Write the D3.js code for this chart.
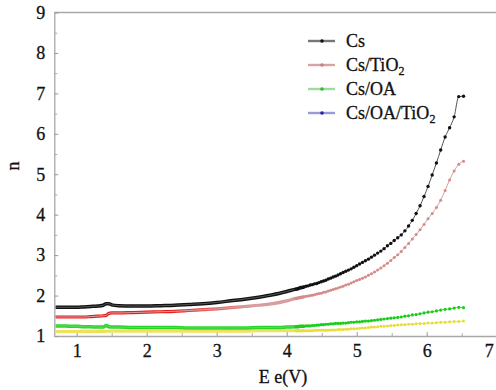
<!DOCTYPE html>
<html><head><meta charset="utf-8">
<script src="https://cdn.jsdelivr.net/npm/d3@7"></script>
<style>body{margin:0;background:#fff} svg text{font-family:"Liberation Serif","Tinos","Times New Roman","DejaVu Serif",serif !important; stroke:#111; stroke-width:0.3px;}</style></head>
<body>
<svg id="c" width="496" height="390"></svg>
<script>
// Photon energy (eV)
const energy = [0.70,0.80,0.90,1.00,1.10,1.20,1.30,1.38,1.42,1.46,1.50,1.60,1.80,2.00,2.20,2.40,2.60,2.80,3.00,3.20,3.40,3.60,3.80,4.00,
4.133,4.161,4.189,4.218,4.247,4.276,4.306,4.336,4.366,4.397,
4.429,4.460,4.493,4.526,4.559,4.593,4.627,4.662,4.697,4.733,
4.769,4.806,4.844,4.882,4.921,4.960,5.000,5.041,5.082,5.124,
5.167,5.210,5.254,5.299,5.345,5.391,5.439,5.487,5.536,5.586,
5.636,5.688,5.741,5.794,5.849,5.905,5.962,6.019,6.078,6.139,
6.200,6.263,6.327,6.392,6.458,6.526];

const nCs = [1.71,1.71,1.71,1.71,1.72,1.73,1.74,1.76,1.80,1.80,1.77,1.75,1.74,1.74,1.75,1.76,1.78,1.80,1.83,1.87,1.91,1.96,2.02,2.10,
2.16,2.17,2.19,2.20,2.21,2.23,2.24,2.26,2.27,2.29,
2.30,2.32,2.34,2.36,2.38,2.41,2.43,2.46,2.48,2.51,
2.54,2.57,2.60,2.63,2.66,2.70,2.74,2.78,2.82,2.86,
2.90,2.95,3.00,3.05,3.10,3.16,3.23,3.29,3.36,3.43,
3.50,3.60,3.72,3.86,4.03,4.22,4.45,4.70,4.98,5.28,
5.60,5.92,6.15,6.42,6.92,6.93];

const nCsTiO2 = [1.47,1.47,1.47,1.47,1.47,1.48,1.49,1.50,1.51,1.56,1.57,1.57,1.58,1.59,1.60,1.61,1.63,1.65,1.67,1.70,1.73,1.76,1.80,1.87,
1.93,1.94,1.95,1.96,1.97,1.98,1.99,2.00,2.01,2.02,
2.04,2.05,2.06,2.08,2.09,2.11,2.13,2.15,2.17,2.19,
2.21,2.23,2.26,2.28,2.31,2.34,2.37,2.40,2.43,2.46,
2.50,2.54,2.58,2.63,2.68,2.74,2.80,2.87,2.94,3.01,
3.09,3.19,3.29,3.40,3.51,3.63,3.76,3.90,4.03,4.18,
4.36,4.60,4.86,5.08,5.25,5.32];

const nCsOA = [1.25,1.25,1.24,1.24,1.23,1.23,1.22,1.22,1.26,1.23,1.22,1.22,1.21,1.21,1.21,1.21,1.20,1.20,1.20,1.20,1.20,1.21,1.21,1.22,
1.23,1.23,1.24,1.24,1.24,1.25,1.25,1.25,1.26,1.26,
1.27,1.27,1.28,1.28,1.29,1.29,1.30,1.30,1.31,1.31,
1.31,1.32,1.32,1.33,1.34,1.34,1.35,1.35,1.36,1.37,
1.37,1.38,1.39,1.40,1.41,1.42,1.43,1.44,1.45,1.46,
1.47,1.49,1.50,1.52,1.53,1.55,1.57,1.59,1.60,1.62,
1.64,1.66,1.67,1.69,1.71,1.70];

const nCsOATiO2 = [1.11,1.11,1.11,1.11,1.11,1.11,1.11,1.11,1.11,1.12,1.12,1.12,1.12,1.12,1.12,1.12,1.12,1.12,1.12,1.12,1.12,1.13,1.13,1.13,
1.13,1.13,1.13,1.13,1.13,1.13,1.13,1.13,1.13,1.14,
1.14,1.14,1.14,1.14,1.14,1.14,1.15,1.15,1.15,1.16,
1.16,1.16,1.17,1.17,1.18,1.18,1.18,1.19,1.20,1.20,
1.21,1.22,1.22,1.23,1.24,1.24,1.25,1.26,1.26,1.27,
1.28,1.28,1.29,1.29,1.30,1.31,1.31,1.32,1.32,1.33,
1.34,1.34,1.35,1.36,1.36,1.37];

const xTicks = [1,2,3,4,5,6,7];
const xMinor = [1.5,2.5,3.5,4.5,5.5,6.5];
const yTicks = [1,2,3,4,5,6,7,8,9];
const yMinor = [1.5,2.5,3.5,4.5,5.5,6.5,7.5,8.5];
const xTitle = "E e(V)";
const yTitle = "n";

const FONT = '"Liberation Serif","Tinos","Times New Roman","DejaVu Serif",serif';
const svg = d3.select("#c");
svg.append("rect").attr("width",496).attr("height",390).attr("fill","#fff");

const x = d3.scaleLinear().domain([0.68, 7.0]).range([54.3, 496.7]);
const y = d3.scaleLinear().domain([1, 9]).range([336, 12.5]);

const defs = svg.append("defs");
const grad = defs.append("linearGradient").attr("id","redfade")
  .attr("gradientUnits","userSpaceOnUse")
  .attr("x1", x(2.3)).attr("x2", x(3.5)).attr("y1",0).attr("y2",0);
grad.append("stop").attr("offset",0).attr("stop-color","#e41d1d");
grad.append("stop").attr("offset",1).attr("stop-color","#d99a9a");
defs.append("clipPath").attr("id","lowclip").append("rect")
  .attr("x",0).attr("y",0).attr("width",x(4.25)).attr("height",390);

// top frame line
svg.append("line").attr("x1",54.3).attr("x2",496).attr("y1",12.5).attr("y2",12.5)
  .attr("stroke","#a8a8a8").attr("stroke-width",1.3);

function styleAxis(g){
  g.attr("font-family", FONT);
  g.select(".domain").attr("stroke","#a8a8a8").attr("stroke-width",1.3);
  g.selectAll(".tick line").attr("stroke","#999");
  g.selectAll("text").style("font-family",FONT).attr("font-size",18).attr("fill","#111");
}

// x axis
const gx = svg.append("g").attr("transform","translate(0,336)")
  .call(d3.axisBottom(x).tickValues(xTicks).tickFormat(d3.format("d"))
    .tickSizeInner(-4).tickSizeOuter(0).tickPadding(8));
styleAxis(gx);
gx.selectAll(".tick").filter(d => d === 7).select("text").attr("dx", -8);
const gxm = svg.append("g").attr("transform","translate(0,336)")
  .call(d3.axisBottom(x).tickValues(xMinor).tickFormat("").tickSizeInner(-3).tickSizeOuter(0));
gxm.select(".domain").remove();
gxm.selectAll(".tick line").attr("stroke","#aaa");

// y axis
const gy = svg.append("g").attr("transform","translate(54.3,0)")
  .call(d3.axisLeft(y).tickValues(yTicks).tickFormat(d3.format("d"))
    .tickSizeInner(-4).tickSizeOuter(0).tickPadding(9));
styleAxis(gy);
const gym = svg.append("g").attr("transform","translate(54.3,0)")
  .call(d3.axisLeft(y).tickValues(yMinor).tickFormat("").tickSizeInner(-3).tickSizeOuter(0));
gym.select(".domain").remove();
gym.selectAll(".tick line").attr("stroke","#aaa");

// titles
svg.append("text").attr("x",283).attr("y",383).attr("text-anchor","middle")
  .style("font-family",FONT).attr("font-size",18).attr("fill","#111").text(xTitle);
svg.append("text").attr("transform","translate(19,166) rotate(-90)").attr("text-anchor","middle")
  .style("font-family",FONT).attr("font-size",18).attr("fill","#111").text(yTitle);

const series = [
  {name:"Cs/OA/TiO2", vals:nCsOATiO2, thick:"#efe35a", thickW:3, line:"#eee060", dot:"#e8dc3a", r:1.5},
  {name:"Cs/OA", vals:nCsOA, thick:"#2bd42b", thickW:3.5, line:"#55dd55", dot:"#1ccc1c", r:1.6},
  {name:"Cs/TiO2", vals:nCsTiO2, thick:"url(#redfade)", thickW:3.2, line:"#dba0a0", dot:"#d58a8a", r:1.5},
  {name:"Cs", vals:nCs, thick:"#111", thickW:3.5, line:"#555", dot:"#111", r:1.7}
];

const line = d3.line().x(d => x(d[0])).y(d => y(d[1])).curve(d3.curveMonotoneX);

series.forEach(s => {
  const pts = energy.map((e,i) => [e, s.vals[i]]);
  svg.append("path").datum(pts).attr("d", line).attr("fill","none")
    .attr("stroke", s.thick).attr("stroke-width", s.thickW).attr("clip-path","url(#lowclip)");
  svg.append("path").datum(pts).attr("d", line).attr("fill","none")
    .attr("stroke", s.line).attr("stroke-width", 1);
  svg.append("g").selectAll("circle").data(pts.filter(p => p[0] > 4.1)).join("circle")
    .attr("cx", d => x(d[0])).attr("cy", d => y(d[1])).attr("r", s.r).attr("fill", s.dot);
});

// legend
const legend = [
  {label:"Cs", sub:"", line:"#777", dot:"#111"},
  {label:"Cs/TiO", sub:"2", line:"#d9a3a3", dot:"#c98080"},
  {label:"Cs/OA", sub:"", line:"#9ddc9d", dot:"#33bb33"},
  {label:"Cs/OA/TiO", sub:"2", line:"#9a9ad6", dot:"#2222aa"}
];
const lg = svg.append("g");
legend.forEach((L,i) => {
  const cy = 41 + i*24;
  lg.append("line").attr("x1",308).attr("x2",335).attr("y1",cy).attr("y2",cy)
    .attr("stroke",L.line).attr("stroke-width",2.4);
  lg.append("circle").attr("cx",322).attr("cy",cy).attr("r",1.8).attr("fill",L.dot);
  const t = lg.append("text").attr("x",346).attr("y",cy+6)
    .style("font-family",FONT).attr("font-size",18).attr("fill","#111").text(L.label);
  if (L.sub) t.append("tspan").attr("font-size",12).attr("dy",4).text(L.sub);
});
</script>
</body></html>
